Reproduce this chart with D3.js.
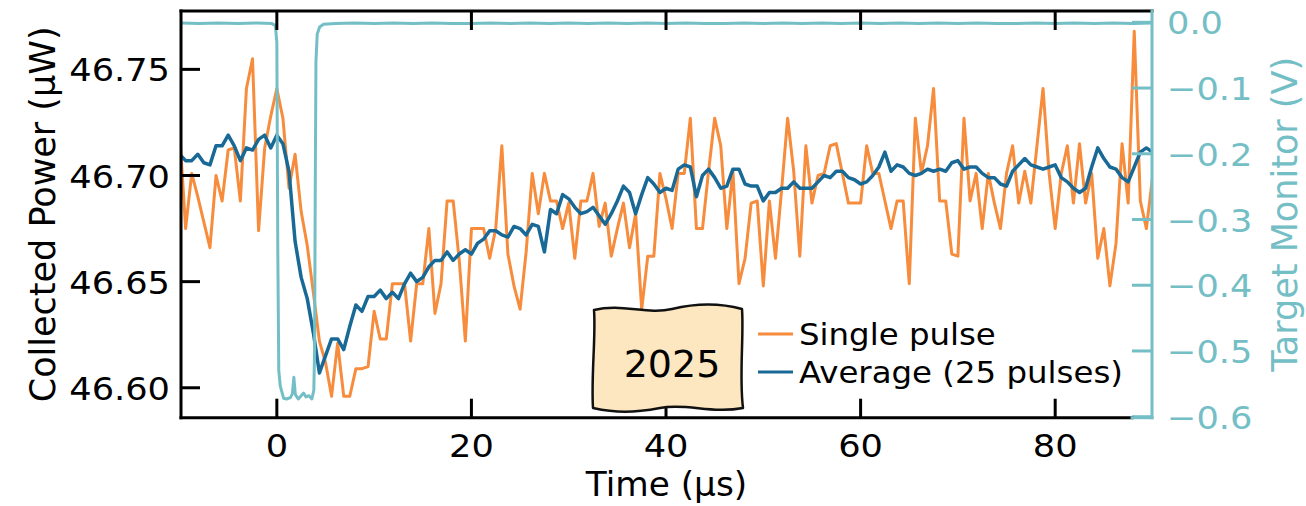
<!DOCTYPE html>
<html>
<head>
<meta charset="utf-8">
<script src="https://cdn.jsdelivr.net/npm/d3@7"></script>
<style>
  body { margin: 0; background: #fff; }
  text { font-family: "DejaVu Sans", sans-serif; }
</style>
</head>
<body>
<svg id="chart" width="1306" height="506"></svg>
<script>
// collected power, one sample every 0.625 us starting at -10 us
const singlePulse = [
  46.721, 46.675, 46.701, 46.690, 46.678, 46.666, 46.700, 46.688, 46.712, 46.713,
  46.688, 46.741, 46.755, 46.674, 46.713, 46.728, 46.741, 46.727, 46.694, 46.710,
  46.683, 46.667, 46.645, 46.622, 46.612, 46.596, 46.621, 46.596, 46.596, 46.609,
  46.609, 46.610, 46.636, 46.623, 46.623, 46.649, 46.649, 46.649, 46.622, 46.649,
  46.649, 46.675, 46.635, 46.649, 46.688, 46.688, 46.660, 46.622, 46.675, 46.675,
  46.675, 46.661, 46.675, 46.714, 46.663, 46.648, 46.637, 46.664, 46.701, 46.682,
  46.701, 46.688, 46.688, 46.675, 46.687, 46.661, 46.688, 46.688, 46.701, 46.676,
  46.687, 46.662, 46.675, 46.687, 46.666, 46.682, 46.637, 46.662, 46.662, 46.701,
  46.689, 46.675, 46.701, 46.701, 46.727, 46.675, 46.675, 46.702, 46.727, 46.714,
  46.675, 46.702, 46.649, 46.661, 46.687, 46.688, 46.648, 46.688, 46.661, 46.693,
  46.727, 46.702, 46.662, 46.714, 46.687, 46.700, 46.701, 46.714, 46.715, 46.701,
  46.687, 46.687, 46.687, 46.714, 46.701, 46.701, 46.688, 46.675, 46.688, 46.688,
  46.649, 46.727, 46.701, 46.714, 46.741, 46.688, 46.688, 46.663, 46.662, 46.727,
  46.688, 46.701, 46.675, 46.701, 46.687, 46.675, 46.701, 46.714, 46.687, 46.702,
  46.687, 46.714, 46.741, 46.701, 46.675, 46.701, 46.714, 46.687, 46.715, 46.687,
  46.701, 46.661, 46.675, 46.648, 46.668, 46.715, 46.687, 46.768, 46.688, 46.675,
  46.699
];
const averagePulse = [
  46.710, 46.707, 46.707, 46.710, 46.706, 46.705, 46.714, 46.714, 46.719, 46.714,
  46.707, 46.713, 46.712, 46.717, 46.719, 46.713, 46.719, 46.715, 46.702, 46.669,
  46.652, 46.642, 46.626, 46.607, 46.615, 46.623, 46.623, 46.618, 46.629, 46.639,
  46.636, 46.643, 46.643, 46.646, 46.642, 46.645, 46.642, 46.649, 46.654, 46.650,
  46.652, 46.657, 46.660, 46.660, 46.664, 46.660, 46.663, 46.665, 46.663, 46.668,
  46.670, 46.674, 46.674, 46.672, 46.671, 46.676, 46.675, 46.672, 46.677, 46.676,
  46.664, 46.684, 46.682, 46.691, 46.689, 46.685, 46.682, 46.683, 46.685, 46.681,
  46.677, 46.682, 46.688, 46.695, 46.692, 46.682, 46.691, 46.699, 46.696, 46.692,
  46.694, 46.693, 46.703, 46.705, 46.704, 46.690, 46.700, 46.703, 46.699, 46.694,
  46.695, 46.703, 46.703, 46.696, 46.695, 46.695, 46.688, 46.692, 46.692, 46.694,
  46.694, 46.697, 46.694, 46.694, 46.694, 46.697, 46.700, 46.699, 46.702, 46.702,
  46.699, 46.698, 46.696, 46.697, 46.700, 46.704, 46.711, 46.702, 46.705, 46.704,
  46.701, 46.700, 46.701, 46.703, 46.702, 46.703, 46.702, 46.706, 46.707, 46.703,
  46.704, 46.704, 46.701, 46.699, 46.699, 46.696, 46.695, 46.702, 46.705, 46.708,
  46.705, 46.704, 46.703, 46.704, 46.705, 46.699, 46.697, 46.694, 46.692, 46.694,
  46.704, 46.713, 46.708, 46.704, 46.703, 46.699, 46.697, 46.704, 46.711, 46.713,
  46.711
];
const sampleTime = d3.range(singlePulse.length).map(i => -10 + 0.625 * i);

// target monitor voltage
const monitorTime = [
  -10, -8, -6, -4, -2, -0.5, -0.15, 0, 0.1, 0.2, 0.35, 0.7, 1.0, 1.4, 1.6, 1.75, 1.9,
  2.2, 2.5, 2.75, 3.0, 3.3, 3.6, 3.8, 3.88, 3.95, 4.02, 4.15, 4.4, 4.8,
  6, 8, 10, 12, 14, 16, 18, 20, 22, 24, 26, 28, 30, 32, 34, 36, 38, 40, 42, 44, 46, 48,
  50, 52, 54, 56, 58, 60, 62, 64, 66, 68, 70, 72, 74, 76, 78, 80, 82, 84, 86, 88, 90
];
const monitorVolts = [
  -0.001, -0.002, -0.001, -0.002, -0.001, -0.002, -0.005, -0.03, -0.35, -0.53, -0.553, -0.572, -0.573, -0.571, -0.565, -0.540, -0.566,
  -0.573, -0.568, -0.564, -0.570, -0.568, -0.573, -0.560, -0.50, -0.25, -0.06, -0.018, -0.007, -0.003,
  -0.002, -0.001, -0.002, -0.001, -0.002, -0.001, -0.002, -0.002, -0.001, -0.002, -0.001, -0.002, -0.001, -0.002, -0.001, -0.002, -0.001, -0.002, -0.001, -0.002, -0.002, -0.001,
  -0.002, -0.001, -0.002, -0.001, -0.002, -0.001, -0.002, -0.001, -0.002, -0.001, -0.002, -0.001, -0.002, -0.002, -0.001, -0.002, -0.001, -0.002, -0.001, -0.002, -0.001
];

const timeTicks = [0, 20, 40, 60, 80];
const powerTicks = [46.60, 46.65, 46.70, 46.75];
const voltTicks = [0.0, -0.1, -0.2, -0.3, -0.4, -0.5, -0.6];
const legendLabels = ["Single pulse", "Average (25 pulses)"];

const orange = "#f68c3c", blue = "#196996", teal = "#74bec6";

let svg = d3.select("svg#chart");
let plotLeft = 181, plotRight = 1152, plotTop = 11, plotBottom = 417.7;

let x = d3.scaleLinear().domain([-9.85, 89.95]).range([plotLeft, plotRight]);
let yP = d3.scaleLinear().domain([46.5859, 46.7775]).range([plotBottom, plotTop]);
let yV = d3.scaleLinear().domain([-0.6015, 0.0172]).range([plotBottom, plotTop]);

svg.append("rect").attr("width", 1306).attr("height", 506).attr("fill", "#fff");
svg.append("clipPath").attr("id", "plotclip")
  .append("rect").attr("x", plotLeft).attr("y", plotTop)
  .attr("width", plotRight - plotLeft).attr("height", plotBottom - plotTop);

// text that is a little wider than tall, like the picture
function label(g, px, py, s, size, anchor, fill, sx) {
  return g.append("text")
    .attr("transform", "translate(" + px + "," + py + ") scale(" + sx + ",1)")
    .attr("text-anchor", anchor)
    .attr("font-size", size)
    .attr("fill", fill)
    .text(s);
}

let plot = svg.append("g").attr("clip-path", "url(#plotclip)");

let powerLine = d3.line().x((d, i) => x(sampleTime[i])).y(d => yP(d));
plot.append("path").datum(singlePulse)
  .attr("d", powerLine).attr("fill", "none").attr("stroke", orange)
  .attr("stroke-width", 3).attr("stroke-linejoin", "round");
plot.append("path").datum(averagePulse)
  .attr("d", powerLine).attr("fill", "none").attr("stroke", blue)
  .attr("stroke-width", 3.5).attr("stroke-linejoin", "round");

let voltLine = d3.line().x((d, i) => x(monitorTime[i])).y(d => yV(d));
plot.append("path").datum(monitorVolts)
  .attr("d", voltLine).attr("fill", "none").attr("stroke", teal)
  .attr("stroke-width", 3).attr("stroke-linejoin", "round");

// ticks, all pointing in
let ticks = svg.append("g").attr("stroke-width", 3);
timeTicks.forEach(t => {
  ticks.append("line").attr("x1", x(t)).attr("x2", x(t)).attr("y1", plotBottom).attr("y2", plotBottom - 19).attr("stroke", "#000");
  ticks.append("line").attr("x1", x(t)).attr("x2", x(t)).attr("y1", plotTop).attr("y2", plotTop + 19).attr("stroke", "#000");
  label(svg, x(t), 457, String(t), 32, "middle", "#000", 1.1);
});
powerTicks.forEach(v => {
  ticks.append("line").attr("x1", plotLeft).attr("x2", plotLeft + 19).attr("y1", yP(v)).attr("y2", yP(v)).attr("stroke", "#000");
  label(svg, 170, yP(v) + 12, v.toFixed(2), 32, "end", "#000", 1.1);
});
voltTicks.forEach(v => {
  ticks.append("line").attr("x1", plotRight - 20).attr("x2", plotRight).attr("y1", yV(v)).attr("y2", yV(v)).attr("stroke", teal);
  label(svg, 1167, yV(v) + 12, v.toFixed(1).replace("-", "\u2212"), 32, "start", teal, 1.1);
});

// spines
let spines = svg.append("g").attr("stroke-width", 3).attr("stroke-linecap", "square");
spines.append("line").attr("x1", plotLeft).attr("x2", plotLeft).attr("y1", plotTop).attr("y2", plotBottom).attr("stroke", "#000");
spines.append("line").attr("x1", plotLeft).attr("x2", plotRight).attr("y1", plotTop).attr("y2", plotTop).attr("stroke", "#000");
spines.append("line").attr("x1", plotLeft).attr("x2", plotRight - 20).attr("y1", plotBottom).attr("y2", plotBottom).attr("stroke", "#000");
spines.append("line").attr("x1", plotRight - 20).attr("x2", plotRight).attr("y1", plotBottom).attr("y2", plotBottom).attr("stroke", teal);
spines.append("line").attr("x1", plotRight).attr("x2", plotRight).attr("y1", plotTop).attr("y2", plotBottom).attr("stroke", teal);

// axis titles
label(svg, (plotLeft + plotRight) / 2, 496, "Time (\u03bcs)", 33, "middle", "#000", 1.04);
svg.append("text").attr("transform", "translate(55," + (plotTop + plotBottom) / 2 + ") rotate(-90)")
  .attr("text-anchor", "middle").attr("font-size", 35).text("Collected Power (\u03bcW)");
svg.append("text").attr("transform", "translate(1297," + (plotTop + plotBottom) / 2 + ") rotate(-90)")
  .attr("text-anchor", "middle").attr("font-size", 35).attr("fill", teal).text("Target Monitor (V)");

// legend
let legend = svg.append("g");
[orange, blue].forEach((c, i) => {
  let ly = 334 + i * 38;
  legend.append("line").attr("x1", 758).attr("x2", 793).attr("y1", ly).attr("y2", ly)
    .attr("stroke", c).attr("stroke-width", 3);
  label(legend, 799, ly + 11, legendLabels[i], 30, "start", "#000", 1.08);
});

// hand drawn year tag
let tag = svg.append("g").attr("transform", "translate(592,306)");
tag.append("path")
  .attr("d", "M2,4 C30,-3 55,9 80,3 S128,-3 150,3 C152,30 147,70 151,102 C120,108 95,97 68,102 S24,107 1,102 C-1,70 4,30 2,4 Z")
  .attr("fill", "#fce7c1").attr("stroke", "#111").attr("stroke-width", 2.5).attr("stroke-linejoin", "round");
tag.append("text").attr("x", 80).attr("y", 71).attr("text-anchor", "middle")
  .attr("font-family", "Open Sans").attr("font-size", 38).text("2025");
</script>
</body>
</html>
